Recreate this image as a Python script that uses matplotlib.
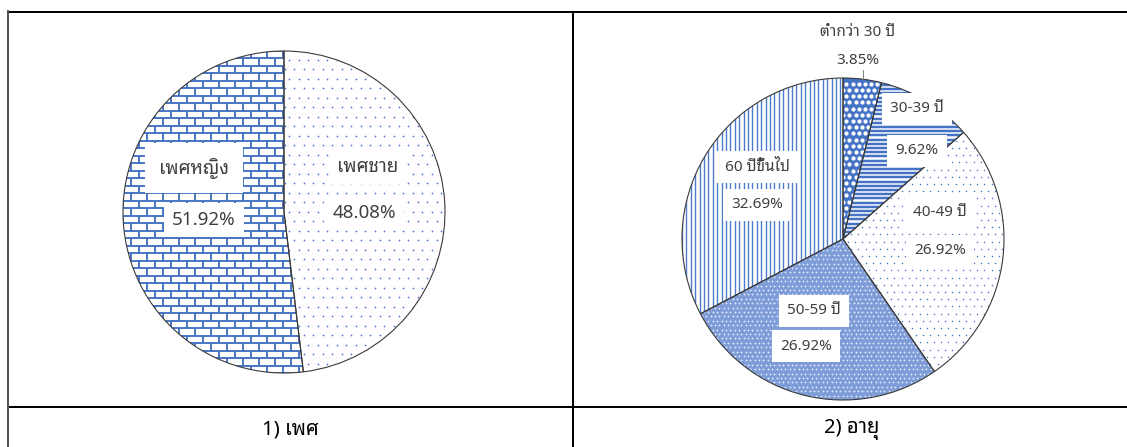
import numpy as np
import matplotlib
matplotlib.use('Agg')
import matplotlib.pyplot as plt
from matplotlib.collections import LineCollection

# survey respondents, share in percent
sex_labels = ['เพศชาย', 'เพศหญิง']
sex_pct = [48.08, 51.92]

age_labels = ['ต่ำกว่า 30 ปี', '30-39 ปี', '40-49 ปี', '50-59 ปี', '60 ปีขึ้นไป']
age_pct = [3.85, 9.62, 26.92, 26.92, 32.69]

captions = ['1) เพศ', '2) อายุ']

W, H = 1127, 447
BLUE = '#4472C4'
TXT = '#404040'
FONT = ['Noto Sans Thai Looped', 'DejaVu Sans']
PX = 0.72  # points per pixel at dpi 100


def yp(y):
    # pixel row (from top) -> data y
    return H - y


def grid_points(x0, x1, y0, y1, dx, dy, stagger=True):
    pts = []
    for i, y in enumerate(np.arange(y0, y1, dy)):
        off = dx / 2 if (stagger and i % 2) else 0
        for x in np.arange(x0 + off, x1, dx):
            pts.append((x, y))
    return np.array(pts)


def clip_all(artists, wedge):
    for a in artists:
        a.set_clip_path(wedge)


def bricks(ax, wedge, cx, cy, r):
    segs = []
    rh, bw = 7.5, 16
    for i, y in enumerate(np.arange(cy - r, cy + r + rh, rh)):
        segs.append([(cx - r, y), (cx + r, y)])
        off = bw / 2 if i % 2 else 0
        for x in np.arange(cx - r + off, cx + r, bw):
            segs.append([(x, y), (x, y + rh)])
    lc = LineCollection(segs, colors=BLUE, linewidths=1.9 * PX, zorder=2)
    ax.add_collection(lc)
    clip_all([lc], wedge)


def hstripes(ax, wedge, cx, cy, r, step=4.2, lw=2.5):
    segs = [[(cx - r, y), (cx + r, y)] for y in np.arange(cy - r, cy + r, step)]
    lc = LineCollection(segs, colors=BLUE, linewidths=lw * PX, zorder=2)
    ax.add_collection(lc)
    clip_all([lc], wedge)


def vstripes(ax, wedge, cx, cy, r, step=4.4, lw=1.4):
    segs = [[(x, cy - r), (x, cy + r)] for x in np.arange(cx - r, cx + r, step)]
    lc = LineCollection(segs, colors='#4F7BCB', linewidths=lw * PX, zorder=2)
    ax.add_collection(lc)
    clip_all([lc], wedge)


def dots(ax, wedge, cx, cy, r, step, size, color=BLUE, stagger=True):
    p = grid_points(cx - r, cx + r, cy - r, cy + r, step, step, stagger)
    sc = ax.scatter(p[:, 0], p[:, 1], s=(size * PX) ** 2, c=color,
                    linewidths=0, zorder=2)
    clip_all([sc], wedge)


def label(ax, x, y, s, size, box=True, pad=0.35):
    kw = dict(ha='center', va='center', fontsize=size, color=TXT,
              family=FONT, zorder=6)
    if box:
        kw['bbox'] = dict(boxstyle='square,pad=%g' % pad, fc='white', ec='none')
    ax.text(x, yp(y), s, **kw)


fig = plt.figure(figsize=(W / 100, H / 100), dpi=100)
ax = fig.add_axes([0, 0, 1, 1])

# ---- left pie: sex ----
cx1, cy1, r1 = 284, yp(212), 161
wl, _ = ax.pie(sex_pct, startangle=90, counterclock=False, center=(cx1, cy1),
               radius=r1, wedgeprops=dict(facecolor='white', edgecolor='none'))
dots(ax, wl[0], cx1, cy1, r1, step=9.5, size=1.7)
bricks(ax, wl[1], cx1, cy1, r1)
ax.pie(sex_pct, startangle=90, counterclock=False, center=(cx1, cy1), radius=r1,
       wedgeprops=dict(facecolor='none', edgecolor='#3a3a3a', linewidth=0.8, zorder=3))

label(ax, 368, 167, sex_labels[0], 13.5, pad=0.45)
label(ax, 364, 213, '%.2f%%' % sex_pct[0], 13.5, pad=0.45)
label(ax, 194, 168, sex_labels[1], 13.5, pad=0.75)
label(ax, 204, 220, '%.2f%%' % sex_pct[1], 13.5, pad=0.45)

# ---- right pie: age ----
cx2, cy2, r2 = 843, yp(239), 161
wr, _ = ax.pie(age_pct, startangle=90, counterclock=False, center=(cx2, cy2),
               radius=r2, wedgeprops=dict(facecolor='white', edgecolor='none'))
wr[0].set_facecolor(BLUE)
dots(ax, wr[0], cx2, cy2, r2, step=6.2, size=4.2, color='white')
hstripes(ax, wr[1], cx2, cy2, r2)
dots(ax, wr[2], cx2, cy2, r2, step=7.2, size=1.5)
wr[3].set_facecolor('#7E9CD8')
dots(ax, wr[3], cx2, cy2, r2, step=4.4, size=1.8, color='#E8EEF8')
vstripes(ax, wr[4], cx2, cy2, r2)
ax.pie(age_pct, startangle=90, counterclock=False, center=(cx2, cy2), radius=r2,
       wedgeprops=dict(facecolor='none', edgecolor='#3a3a3a', linewidth=0.8, zorder=3))

age_pos = [(858, 33, 61, False), (917, 109, 151, True), (940, 213, 251, True),
           (814, 311, 346, True), (757, 167, 205, True)]
for lab, pct, (x, y1, y2, box) in zip(age_labels, age_pct, age_pos):
    label(ax, x, y1, lab, 11, box=box, pad=0.55)
    label(ax, x - (8 if lab == '50-59 ปี' else 0), y2, '%.2f%%' % pct, 11,
          box=box, pad=0.55)
# leader line for the smallest slice
ax.plot([863, 863], [yp(70), yp(79)], color='#7f7f7f', lw=0.7, zorder=4)

# ---- table frame ----
lk = dict(color='black', lw=2 * PX, zorder=7, solid_capstyle='butt')
ax.plot([7, W], [yp(12), yp(12)], **lk)
ax.plot([7, W], [yp(407), yp(407)], **lk)
ax.plot([8, 8], [yp(11), 0], color='#555555', lw=2 * PX, zorder=7)
ax.plot([572.5, 572.5], [yp(12), 0], **lk)

ax.text(290, yp(430), captions[0], ha='center', va='center', fontsize=14.5,
        color='black', family=FONT)
ax.text(852, yp(430), captions[1], ha='center', va='center', fontsize=14.5,
        color='black', family=FONT)

ax.set_xlim(0, W)
ax.set_ylim(0, H)
ax.set_aspect('auto')
ax.axis('off')

fig.savefig('out.png', dpi=100)
